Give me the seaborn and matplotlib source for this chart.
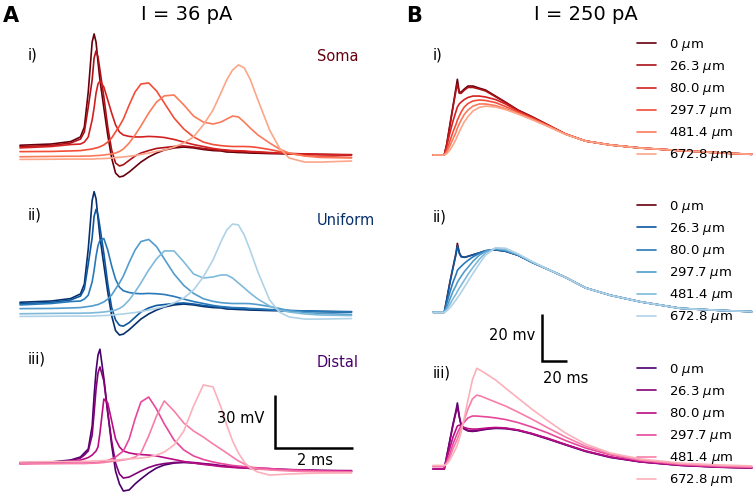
import matplotlib
matplotlib.use("Agg")
import matplotlib.pyplot as plt
import seaborn as sns

# ---- data: voltage traces (mV above rest) sampled at the times below ----
# A panels: I = 36 pA, time in ms
a_time = [0, 0.8, 1.3, 1.55, 1.65, 1.75, 1.85, 1.9, 1.95, 2.0, 2.05, 2.15, 2.25, 2.35,
          2.45, 2.55, 2.65, 2.8, 2.95, 3.1, 3.3, 3.5, 3.7, 3.95, 4.2, 4.45, 4.7, 4.95,
          5.15, 5.3, 5.45, 5.6, 5.75, 5.9, 6.1, 6.4, 6.65, 6.9, 7.3, 7.7, 8.5]
# B panels: I = 250 pA, time in ms
b_time = [0, 9, 11, 13.5, 16, 18.5, 19.5, 21, 22.5, 25, 28, 32, 37, 42, 50, 58, 68, 79,
          92, 106, 122, 142, 166, 198, 230, 255]
b3_time = [0, 9, 11, 13.5, 16, 18.5, 19.5, 21, 22.5, 25, 28, 31.5, 35, 39, 44, 50, 58,
           68, 79, 92, 106, 122, 142, 166, 198, 230, 255]

distances = ["0", "26.3", "80.0", "297.7", "481.4", "672.8"]

# A i) Soma
a1_0 = [5.5, 6.2, 7.6, 10.2, 15.8, 35.6, 63.8, 68.4, 63.8, 52.5, 42.4, 26.6, 11.3, -1.7,
        -10.2, -12.4, -11.9, -9.6, -6.8, -4.0, -1.1, 1.1, 2.8, 4.0, 4.5, 4.0, 3.1, 2.5,
        2.3, 1.7, 1.6, 1.4, 1.3, 1.1, 1.0, 0.8, 0.7, 0.6, 0.4, 0.2, 0.0]
a1_26 = [4.7, 5.4, 6.8, 9.0, 13.0, 27.1, 42.4, 54.8, 58.8, 55.4, 48.0, 32.8, 15.8, 2.8,
         -4.5, -6.2, -5.5, -3.0, -0.6, 1.1, 2.5, 3.7, 4.2, 4.8, 5.1, 4.5, 3.7, 3.1, 2.7,
         2.4, 2.3, 2.0, 1.9, 1.7, 1.5, 1.2, 1.0, 0.8, 0.6, 0.4, 0.2]
a1_80 = [4.0, 4.8, 5.9, 6.2, 7.3, 10.2, 19.8, 26.6, 35.0, 40.1, 41.8, 38.4, 31.1, 23.7,
         17.0, 13.0, 11.3, 10.5, 10.2, 10.2, 10.5, 10.3, 9.9, 8.8, 7.3, 5.9, 4.8, 3.7,
         3.1, 2.8, 2.5, 2.4, 2.3, 2.0, 1.8, 1.4, 1.1, 0.8, 0.6, 0.3, 0.0]
a1_298 = [1.9, 2.0, 2.3, 2.5, 2.8, 3.1, 3.4, 3.7, 4.0, 4.2, 4.7, 5.7, 7.3, 9.6, 13.0, 16.4,
          20.3, 28.3, 35.6, 40.1, 40.7, 36.2, 29.4, 20.9, 14.7, 10.2, 7.3, 5.9, 5.3, 5.0,
          4.8, 4.8, 4.8, 4.7, 4.2, 3.1, 2.0, 0.8, -0.3, -0.8, -1.4]
a1_481 = [-1.0, -0.8, -0.7, -0.7, -0.6, -0.6, -0.5, -0.4, -0.3, -0.3, -0.2, 0.0, 0.3, 0.6,
          1.1, 2.0, 3.4, 6.8, 11.3, 16.4, 23.7, 29.9, 33.4, 33.9, 28.3, 22.0, 18.6, 17.5,
          18.6, 20.3, 22.0, 21.5, 18.6, 15.3, 11.3, 6.8, 3.4, 1.1, -0.6, -1.4, -1.7]
a1_673 = [-2.5, -2.4, -2.3, -2.3, -2.3, -2.3, -2.3, -2.3, -2.1, -2.1, -2.1, -2.0, -1.9,
          -1.7, -1.5, -1.3, -1.1, -0.7, -0.3, 0.3, 1.1, 2.0, 2.8, 4.5, 6.8, 10.2, 17.0,
          25.4, 35.0, 42.4, 48.0, 50.9, 49.2, 42.9, 31.1, 14.1, 4.0, -1.7, -4.0, -4.0, -3.4]

# A ii) Uniform
a2_0 = [5.5, 6.2, 7.6, 10.2, 15.8, 35.6, 63.0, 68.0, 64.0, 53.0, 42.4, 26.6, 11.3, -2.0,
        -10.5, -13.0, -12.5, -10.0, -7.0, -4.0, -1.1, 1.1, 2.8, 4.0, 4.5, 4.0, 3.1, 2.5,
        2.3, 1.7, 1.6, 1.4, 1.3, 1.1, 1.0, 0.8, 0.7, 0.6, 0.4, 0.2, 0.0]
a2_26 = [4.7, 5.4, 6.8, 9.0, 13.0, 27.1, 42.0, 54.0, 58.0, 55.0, 48.0, 33.0, 16.0, 2.5,
         -4.5, -7.5, -8.0, -6.0, -3.0, 0.0, 2.3, 3.7, 4.2, 4.8, 5.1, 4.5, 3.7, 3.1, 2.7,
         2.4, 2.3, 2.0, 1.9, 1.7, 1.5, 1.2, 1.0, 0.8, 0.6, 0.4, 0.2]
a2_80 = [4.0, 4.8, 5.9, 6.2, 7.3, 9.5, 17.0, 23.5, 31.5, 37.5, 40.5, 41.5, 35.0, 26.0,
         18.5, 14.0, 12.0, 11.0, 10.5, 10.3, 10.5, 10.3, 9.9, 8.8, 7.3, 5.9, 4.8, 3.7,
         3.1, 2.8, 2.5, 2.4, 2.3, 2.0, 1.8, 1.4, 1.1, 0.8, 0.6, 0.3, 0.0]
a2_298 = [1.9, 2.0, 2.3, 2.5, 2.8, 3.1, 3.4, 3.7, 4.0, 4.2, 4.7, 5.7, 7.3, 9.6, 13.0, 16.4,
          20.3, 28.0, 35.0, 39.8, 41.0, 37.0, 30.0, 21.5, 15.0, 10.5, 7.5, 6.0, 5.3, 5.0,
          4.8, 4.8, 4.8, 4.7, 4.2, 3.1, 2.0, 0.8, -0.3, -0.8, -1.4]
a2_481 = [-1.0, -0.8, -0.7, -0.7, -0.6, -0.6, -0.5, -0.4, -0.3, -0.3, -0.2, 0.0, 0.3, 0.6,
          1.1, 2.0, 3.4, 6.8, 11.3, 16.4, 23.7, 30.0, 34.5, 34.5, 28.3, 21.5, 19.2, 19.8,
          20.9, 20.9, 19.2, 16.4, 13.6, 10.7, 7.3, 3.4, 1.1, 0.0, -1.1, -1.7, -2.0]
a2_673 = [-2.5, -2.4, -2.3, -2.3, -2.3, -2.3, -2.3, -2.3, -2.1, -2.1, -2.1, -2.0, -1.9,
          -1.7, -1.5, -1.3, -1.1, -0.7, -0.3, 0.3, 1.1, 2.0, 3.1, 5.1, 7.9, 12.4, 19.8,
          29.4, 39.6, 46.3, 49.7, 49.2, 43.5, 35.0, 22.6, 6.8, 0.0, -2.8, -4.0, -4.0, -3.7]

# A iii) Distal
a3_0 = [4.5, 5.1, 6.2, 7.9, 10.2, 12.4, 25.4, 42.4, 56.5, 65.5, 68.8, 52.5, 33.3, 14.7,
        0.0, -7.3, -11.3, -10.7, -7.3, -4.5, -1.1, 1.7, 3.4, 4.5, 4.8, 4.5, 4.0, 3.4, 2.8,
        2.5, 2.3, 2.0, 1.7, 1.5, 1.3, 1.1, 0.8, 0.7, 0.5, 0.2, 0.0]
a3_26 = [4.2, 4.8, 5.9, 7.3, 9.0, 11.3, 20.3, 32.8, 46.3, 55.4, 58.8, 50.9, 32.8, 17.0,
         4.5, -1.7, -4.0, -3.4, -1.7, 0.0, 2.0, 3.4, 4.2, 4.8, 5.1, 4.8, 4.2, 3.7, 3.1,
         2.8, 2.5, 2.3, 2.0, 1.8, 1.6, 1.3, 1.0, 0.8, 0.6, 0.3, 0.2]
a3_80 = [4.2, 4.7, 5.4, 6.2, 6.8, 7.6, 9.0, 10.2, 11.3, 13.6, 21.5, 40.7, 38.4, 28.3, 18.1,
         13.6, 11.3, 10.2, 9.6, 9.3, 9.0, 8.5, 7.6, 6.5, 5.4, 4.5, 3.7, 3.1, 2.5, 2.3, 2.0,
         1.8, 1.7, 1.5, 1.3, 1.0, 0.8, 0.6, 0.3, 0.2, 0.0]
a3_298 = [4.2, 4.4, 4.5, 4.5, 4.5, 4.5, 4.6, 4.7, 4.8, 4.9, 5.1, 5.4, 5.9, 6.8, 7.9, 9.6,
          11.3, 18.1, 29.4, 39.0, 41.8, 35.0, 26.6, 17.5, 11.9, 8.5, 6.5, 5.1, 4.2, 3.7,
          3.1, 2.8, 2.5, 2.1, 1.8, 1.4, 1.0, 0.7, 0.3, 0.0, -0.3]
a3_481 = [4.0, 4.1, 4.2, 4.2, 4.2, 4.3, 4.4, 4.4, 4.5, 4.5, 4.6, 4.8, 5.1, 5.4, 5.7, 5.9,
          6.2, 6.8, 7.9, 10.2, 19.8, 31.1, 39.6, 33.9, 27.1, 22.6, 19.2, 15.3, 12.4, 10.2,
          7.9, 5.7, 4.0, 2.3, 1.1, 0.6, 0.3, 0.0, -0.3, -0.5, -0.6]
a3_673 = [5.1, 5.3, 5.4, 5.4, 5.5, 5.5, 5.6, 5.7, 5.7, 5.7, 5.8, 5.9, 6.0, 6.1, 6.2, 6.4,
          6.6, 6.8, 7.1, 7.3, 7.9, 9.0, 10.7, 14.7, 22.6, 36.7, 48.6, 47.5, 36.2, 26.0,
          17.0, 10.2, 5.1, 1.7, -0.6, -2.3, -2.0, -1.7, -1.4, -1.2, -1.1]

# B i) Soma
b1_0 = [0, 0, 4.7, 12.9, 21.0, 29.2, 32.5, 27.0, 27.0, 28.3, 29.6, 29.6, 28.7, 27.9, 25.3,
        22.7, 19.3, 16.5, 12.9, 9.0, 6.0, 4.3, 3.0, 1.9, 0.9, 0.3]
b1_26 = [0, 0, 4.5, 12.5, 20.5, 28.0, 30.5, 26.5, 26.5, 27.8, 29.0, 29.0, 28.3, 27.5, 25.0,
         22.5, 19.2, 16.4, 12.9, 9.0, 6.0, 4.3, 3.0, 1.9, 0.9, 0.3]
b1_80 = [0, 0, 3.9, 9.4, 14.6, 18.9, 20.6, 21.9, 22.7, 23.8, 24.7, 25.3, 25.3, 24.9, 23.8,
         21.9, 18.9, 16.1, 12.7, 9.0, 6.0, 4.3, 3.0, 1.9, 0.9, 0.3]
b1_298 = [0, 0, 2.1, 6.0, 9.9, 13.3, 15.0, 16.7, 18.4, 20.6, 22.1, 23.2, 23.6, 23.4, 22.5,
          20.8, 18.4, 15.9, 12.7, 9.0, 6.0, 4.3, 3.0, 1.9, 0.9, 0.3]
b1_481 = [0, 0, 1.3, 3.9, 6.9, 9.9, 11.6, 13.3, 15.0, 17.4, 19.3, 21.0, 21.9, 21.9, 21.2,
          19.9, 17.8, 15.4, 12.4, 9.0, 6.0, 4.3, 3.0, 1.9, 0.9, 0.3]
b1_673 = [0, 0, 0.6, 2.1, 4.3, 6.9, 8.2, 9.9, 11.6, 14.2, 16.5, 18.9, 20.4, 21.0, 20.6,
          19.5, 17.6, 15.2, 12.2, 8.8, 6.0, 4.3, 3.0, 1.9, 0.9, 0.3]

# B ii) Uniform
b2_0 = [0, 0, 5.6, 12.9, 19.3, 25.7, 29.6, 25.7, 24.0, 23.6, 24.0, 24.7, 25.5, 26.4, 26.8,
        26.2, 24.5, 21.5, 18.4, 15.0, 10.5, 7.3, 4.5, 1.7, 0.8, 0.3]
b2_26 = [0, 0, 5.4, 12.6, 19.0, 25.0, 28.7, 25.3, 23.8, 23.6, 24.0, 24.7, 25.5, 26.4, 26.8,
         26.2, 24.5, 21.5, 18.4, 15.0, 10.5, 7.3, 4.5, 1.7, 0.8, 0.3]
b2_80 = [0, 0, 3.9, 8.6, 12.9, 16.3, 18.0, 18.9, 19.7, 21.0, 22.3, 23.8, 25.3, 26.4, 27.0,
         26.4, 24.5, 21.5, 18.4, 15.0, 10.5, 7.3, 4.5, 1.7, 0.8, 0.3]
b2_298 = [0, 0, 2.1, 5.6, 9.0, 11.6, 12.9, 14.2, 15.4, 17.4, 19.3, 21.9, 24.5, 26.2, 27.2,
          26.6, 24.7, 21.5, 18.4, 15.0, 10.5, 7.3, 4.5, 1.7, 0.8, 0.3]
b2_481 = [0, 0, 1.3, 3.4, 5.8, 7.9, 9.0, 10.3, 11.6, 13.7, 16.3, 19.3, 22.7, 25.5, 27.5,
          27.0, 24.9, 21.7, 18.4, 15.0, 10.5, 7.3, 4.5, 1.7, 0.8, 0.3]
b2_673 = [0, 0, 0.6, 1.9, 3.6, 5.4, 6.2, 7.3, 8.6, 10.7, 13.3, 16.7, 20.8, 24.5, 27.7, 27.5,
          25.1, 21.9, 18.4, 15.0, 10.5, 7.3, 4.5, 1.7, 0.8, 0.3]

# B iii) Distal
b3_0 = [-0.4, -0.4, 5.1, 12.0, 18.9, 24.9, 27.9, 22.3, 18.4, 16.7, 15.9, 15.7, 15.9, 16.3,
        16.7, 17.0, 16.9, 16.1, 14.6, 12.4, 9.9, 7.1, 4.5, 2.6, 1.1, 0.3, 0.0]
b3_26 = [-0.4, -0.4, 4.9, 11.6, 18.4, 24.2, 26.6, 22.0, 18.4, 16.9, 16.1, 15.9, 16.1, 16.5,
         16.9, 17.2, 17.0, 16.3, 14.8, 12.6, 10.1, 7.3, 4.7, 2.7, 1.2, 0.4, 0.1]
b3_80 = [-0.4, -0.4, 3.9, 8.6, 13.3, 16.7, 18.0, 18.4, 18.0, 17.4, 16.9, 16.7, 16.7, 16.9,
         17.2, 17.4, 17.2, 16.3, 14.8, 12.7, 10.1, 7.3, 4.7, 2.7, 1.2, 0.4, 0.0]
b3_298 = [0.6, 0.6, 2.6, 6.0, 10.3, 13.7, 15.0, 16.7, 18.0, 19.7, 21.5, 22.3, 22.3, 22.1,
          21.9, 21.5, 20.8, 19.5, 17.6, 15.0, 11.8, 8.6, 5.6, 3.2, 1.5, 0.6, 0.3]
b3_481 = [0.9, 0.9, 2.1, 4.7, 8.2, 11.2, 12.4, 14.6, 16.7, 20.6, 25.3, 29.6, 31.3, 30.7,
          29.6, 28.3, 26.6, 24.0, 21.0, 17.2, 13.3, 9.4, 6.0, 3.4, 1.7, 0.9, 0.5]
b3_673 = [1.1, 1.1, 1.7, 3.4, 6.0, 8.6, 9.9, 12.4, 15.4, 21.5, 29.2, 37.8, 42.8, 41.6,
          39.9, 37.8, 34.3, 30.0, 25.3, 20.2, 15.0, 10.3, 6.4, 3.9, 2.1, 1.3, 0.9]

W, H = 756, 497


def fig_text(fig, px, py, s, **kw):
    """Place text using pixel coordinates (origin top-left)."""
    return fig.text(px / W, 1 - py / H, s, **kw)


def trace_axes(fig, left, right, top, bottom, x0, px_per_ms, base, px_per_mv):
    """Invisible axes whose data scale matches the pixel layout of the figure."""
    ax = fig.add_axes([left / W, 1 - bottom / H, (right - left) / W, (bottom - top) / H])
    ax.set_xlim((left - x0) / px_per_ms, (right - x0) / px_per_ms)
    ax.set_ylim((base - bottom) / px_per_mv, (base - top) / px_per_mv)
    ax.set_axis_off()
    ax.patch.set_alpha(0)
    return ax


def draw_traces(ax, time, traces, colors, with_labels=False):
    for v, c, d in zip(traces, colors, distances):
        sns.lineplot(x=time, y=v, ax=ax, color=c, linewidth=1.2, estimator=None,
                     sort=False, legend=False,
                     label=f"{d} $\\mu$m" if with_labels else None)


def add_legend(ax, fig, px, py):
    ax.legend(loc="upper left", bbox_to_anchor=(px / W, 1 - py / H),
              bbox_transform=fig.transFigure, frameon=False, fontsize=9.5,
              handlelength=1.45, handletextpad=1.0, labelspacing=0.46,
              borderpad=0, borderaxespad=0)


sns.set_theme(style="white")
plt.rcParams["font.family"] = ["DejaVu Sans"]
plt.rcParams["mathtext.fontset"] = "dejavusans"
plt.rcParams["text.color"] = "black"

levels = [1.0, 0.85, 0.72, 0.58, 0.45, 0.32]
reds = sns.color_palette("Reds", as_cmap=True)
blues = sns.color_palette("Blues", as_cmap=True)
rdpu = sns.color_palette("RdPu", as_cmap=True)
red_cols = [reds(l) for l in levels]
blue_cols = [blues(l) for l in levels]
pur_cols = [rdpu(l) for l in levels]

fig = plt.figure(figsize=(W / 100, H / 100), dpi=100)
fig.patch.set_facecolor("white")

# ---- column A ----
ax_a1 = trace_axes(fig, 15, 362, 25, 185, 20, 39, 155, 1.77)
draw_traces(ax_a1, a_time, [a1_0, a1_26, a1_80, a1_298, a1_481, a1_673], red_cols)
ax_a2 = trace_axes(fig, 15, 362, 180, 340, 20, 39, 312, 1.77)
draw_traces(ax_a2, a_time, [a2_0, a2_26, a2_80, a2_298, a2_481, a2_673], blue_cols)
ax_a3 = trace_axes(fig, 15, 362, 330, 495, 20, 39, 471, 1.77)
draw_traces(ax_a3, a_time, [a3_0, a3_26, a3_80, a3_298, a3_481, a3_673], pur_cols)

# scale bar 30 mV / 2 ms
sb_t, sb_v = 6.54, 13.0
ax_a3.plot([sb_t, sb_t, sb_t + 2], [sb_v + 30, sb_v, sb_v], color="black", lw=1.8,
           solid_capstyle="butt", solid_joinstyle="miter", clip_on=False)

# ---- column B ----
ax_b1 = trace_axes(fig, 425, 756, 40, 170, 433, 1.25, 155, 2.33)
draw_traces(ax_b1, b_time, [b1_0, b1_26, b1_80, b1_298, b1_481, b1_673], red_cols, True)
add_legend(ax_b1, fig, 637, 37)

ax_b2 = trace_axes(fig, 425, 756, 195, 325, 433, 1.25, 312.3, 2.33)
b2_cols = [red_cols[0]] + blue_cols[1:]
draw_traces(ax_b2, b_time, [b2_0, b2_26, b2_80, b2_298, b2_481, b2_673], b2_cols, True)
add_legend(ax_b2, fig, 637, 199)

ax_b3 = trace_axes(fig, 425, 756, 300, 495, 433, 1.25, 468, 2.33)
draw_traces(ax_b3, b3_time, [b3_0, b3_26, b3_80, b3_298, b3_481, b3_673], pur_cols, True)
add_legend(ax_b3, fig, 637, 362)

# scale bar 20 mV / 20 ms
sb_t, sb_v = 87.2, 45.9
ax_b3.plot([sb_t, sb_t, sb_t + 20], [sb_v + 20, sb_v, sb_v], color="black", lw=1.8,
           solid_capstyle="butt", solid_joinstyle="miter", clip_on=False)

# ---- text ----
fig_text(fig, 3, 22, "A", fontsize=15, fontweight="bold")
fig_text(fig, 187, 20, "I = 36 pA", fontsize=14, ha="center")
fig_text(fig, 406, 22, "B", fontsize=15, fontweight="bold")
fig_text(fig, 586, 20, "I = 250 pA", fontsize=14, ha="center")

small = dict(fontsize=10.5, va="baseline")
fig_text(fig, 28, 59, "i)", **small)
fig_text(fig, 28, 220, "ii)", **small)
fig_text(fig, 28, 364, "iii)", **small)
fig_text(fig, 317, 61, "Soma", color=red_cols[0], **small)
fig_text(fig, 317, 225, "Uniform", color=blue_cols[0], **small)
fig_text(fig, 317, 367, "Distal", color=pur_cols[0], **small)
fig_text(fig, 433, 60, "i)", **small)
fig_text(fig, 433, 222, "ii)", **small)
fig_text(fig, 433, 377, "iii)", **small)

fig_text(fig, 264, 423, "30 mV", ha="right", **small)
fig_text(fig, 315, 465, "2 ms", ha="center", **small)
fig_text(fig, 535, 340, "20 mv", ha="right", **small)
fig_text(fig, 543, 383, "20 ms", ha="left", **small)

fig.savefig("out.png", dpi=100, facecolor="white")
